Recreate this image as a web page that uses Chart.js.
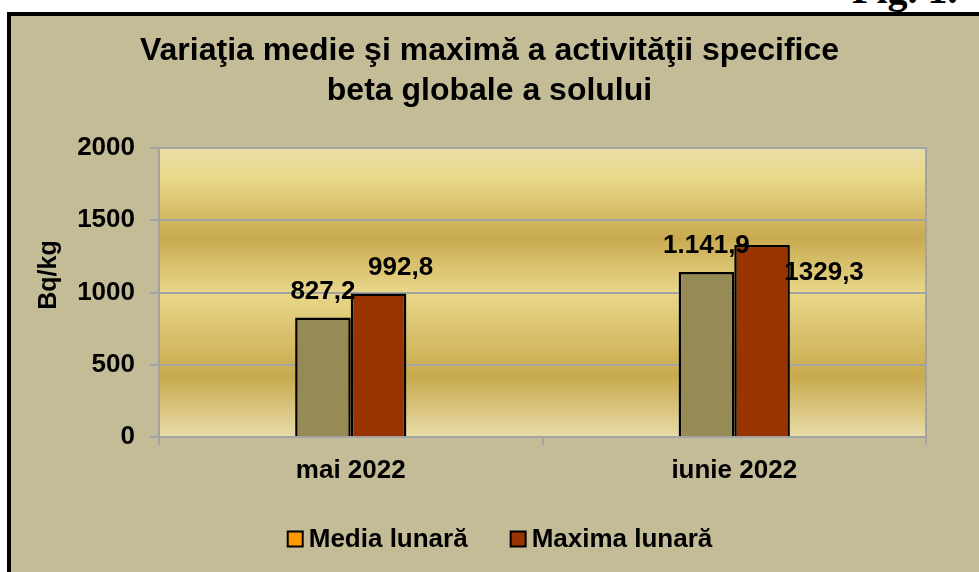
<!DOCTYPE html>
<html>
<head>
<meta charset="utf-8">
<title>Activitatea specifică beta globală a solului</title>
<script src="https://cdn.jsdelivr.net/npm/chart.js@4.4.1/dist/chart.umd.min.js"></script>
<style>
  html, body { margin: 0; padding: 0; background: #fff; overflow: hidden; }
  body { width: 979px; height: 572px; position: relative; }
  #figNo {
    position: absolute; left: 852px; top: -30px;
    font: bold 40px/40px "Liberation Serif", "Times New Roman", serif;
    color: #000; white-space: nowrap;
  }
  #frame {
    position: absolute; left: 7px; top: 12px; width: 1000px; height: 600px;
    border-top: 4px solid #000; border-left: 4px solid #000;
    background: #C4BC97;
  }
  #myChart { position: absolute; left: 0; top: 0; }
</style>
</head>
<body>
<div id="figNo">Fig. 1.</div>
<div id="frame"></div>
<canvas id="myChart" width="979" height="572"></canvas>
<script>
const categories = ['mai 2022', 'iunie 2022'];
const seriesNames = ['Media lunară', 'Maxima lunară'];
const mediaValues = [827.2, 1141.9];
const maximaValues = [992.8, 1329.3];
const mediaLabels = ['827,2', '1.141,9'];
const maximaLabels = ['992,8', '1329,3'];
const yTicks = [0, 500, 1000, 1500, 2000];

const FONT = '"Liberation Sans", Arial, sans-serif';
const GRID = '#A3A3A3';

// golden banded fill behind the bars
const plotBackground = {
    id: 'plotBackground',
    beforeDraw(chart) {
        const {ctx, chartArea: a} = chart;
        const g = ctx.createLinearGradient(0, a.top, 0, a.bottom);
        g.addColorStop(0.00, '#E8DDA8');
        g.addColorStop(0.10, '#E9D98B');
        g.addColorStop(0.31, '#C8AA50');
        g.addColorStop(0.50, '#E9D78A');
        g.addColorStop(0.79, '#C8AA4E');
        g.addColorStop(1.00, '#E8DCA9');
        ctx.save();
        ctx.fillStyle = g;
        ctx.fillRect(a.left, a.top, a.right - a.left, a.bottom - a.top);
        ctx.restore();
    }
};

// value labels next to each bar
const valueLabels = {
    id: 'valueLabels',
    afterDatasetsDraw(chart, args, opts) {
        const {ctx} = chart;
        ctx.save();
        ctx.font = 'bold 26px ' + FONT;
        ctx.fillStyle = '#000';
        ctx.textAlign = 'center';
        ctx.textBaseline = 'middle';
        chart.data.datasets.forEach((ds, i) => {
            chart.getDatasetMeta(i).data.forEach((bar, j) => {
                const off = opts.offsets[i][j];
                ctx.fillText(ds.valueText[j], bar.x + off[0], bar.y + off[1]);
            });
        });
        ctx.restore();
    }
};

// rotated unit title on the left
const unitTitle = {
    id: 'unitTitle',
    afterDraw(chart, args, opts) {
        const {ctx} = chart;
        ctx.save();
        ctx.translate(opts.x, opts.y);
        ctx.rotate(-Math.PI / 2);
        ctx.font = 'bold 25px ' + FONT;
        ctx.fillStyle = '#000';
        ctx.textAlign = 'center';
        ctx.textBaseline = 'middle';
        ctx.fillText(opts.text, 0, 0);
        ctx.restore();
    }
};

// legend row under the axis
const legendRow = {
    id: 'legendRow',
    afterDraw(chart, args, opts) {
        const {ctx} = chart;
        const box = 15, gap = 6, spacing = 43;
        ctx.save();
        ctx.font = 'bold 26px ' + FONT;
        const items = chart.data.datasets.map(ds => ({text: ds.label, color: ds.legendColor, w: ctx.measureText(ds.label).width}));
        let total = items.reduce((s, it) => s + box + gap + it.w, 0) + spacing * (items.length - 1);
        let x = opts.centerX - total / 2;
        items.forEach(it => {
            ctx.fillStyle = it.color;
            ctx.fillRect(x, opts.y - box / 2, box, box);
            ctx.lineWidth = 2;
            ctx.strokeStyle = '#000';
            ctx.strokeRect(x, opts.y - box / 2, box, box);
            ctx.fillStyle = '#000';
            ctx.textAlign = 'left';
            ctx.textBaseline = 'middle';
            ctx.fillText(it.text, x + box + gap, opts.y + 1);
            x += box + gap + it.w + spacing;
        });
        ctx.restore();
    }
};

const ctx = document.getElementById('myChart').getContext('2d');
window.myChartInstance = new Chart(ctx, {
    type: 'bar',
    data: {
        labels: categories,
        datasets: [{
            label: seriesNames[0],
            data: mediaValues,
            valueText: mediaLabels,
            legendColor: '#FF9900',
            backgroundColor: '#968B55',
            borderColor: '#000',
            borderWidth: 2.5
        }, {
            label: seriesNames[1],
            data: maximaValues,
            valueText: maximaLabels,
            legendColor: '#993300',
            backgroundColor: '#993300',
            borderColor: '#000',
            borderWidth: 2.5
        }]
    },
    options: {
        responsive: false,
        animation: false,
        categoryPercentage: 0.29,
        barPercentage: 1,
        layout: {padding: 0},
        scales: {
            x: {
                grid: {drawOnChartArea: false, offset: true, tickLength: 8, color: GRID, lineWidth: 2},
                border: {color: GRID, width: 2},
                ticks: {color: '#000', font: {family: FONT, size: 26, weight: 'bold'}, padding: 10},
                afterFit(s) { s.height = 135; }
            },
            y: {
                min: 0,
                max: 2000,
                afterBuildTicks(s) { s.ticks = yTicks.map(v => ({value: v})); },
                grid: {color: GRID, lineWidth: 2, tickLength: 9},
                border: {color: GRID, width: 2},
                ticks: {
                    color: '#000',
                    font: {family: FONT, size: 26, weight: 'bold'},
                    padding: 15,
                    callback: v => String(v)
                },
                afterFit(s) { s.width = 159; }
            },
            y2: {
                position: 'right',
                grid: {display: false},
                ticks: {display: false},
                border: {color: GRID, width: 2},
                afterFit(s) { s.width = 53; }
            }
        },
        plugins: {
            legend: {display: false},
            tooltip: {enabled: false},
            title: {
                display: true,
                text: ['Variaţia medie şi maximă a activităţii specifice', 'beta globale a solului'],
                color: '#000',
                font: {family: FONT, size: 32, weight: 'bold', lineHeight: 1.25},
                padding: {top: 31, bottom: 37}
            },
            valueLabels: {offsets: [[[0, -26], [0, -26]], [[22, -26], [62, 28]]]},
            unitTitle: {text: 'Bq/kg', x: 49, y: 275},
            legendRow: {centerX: 500, y: 539}
        }
    },
    plugins: [plotBackground, valueLabels, unitTitle, legendRow]
});
</script>
</body>
</html>
